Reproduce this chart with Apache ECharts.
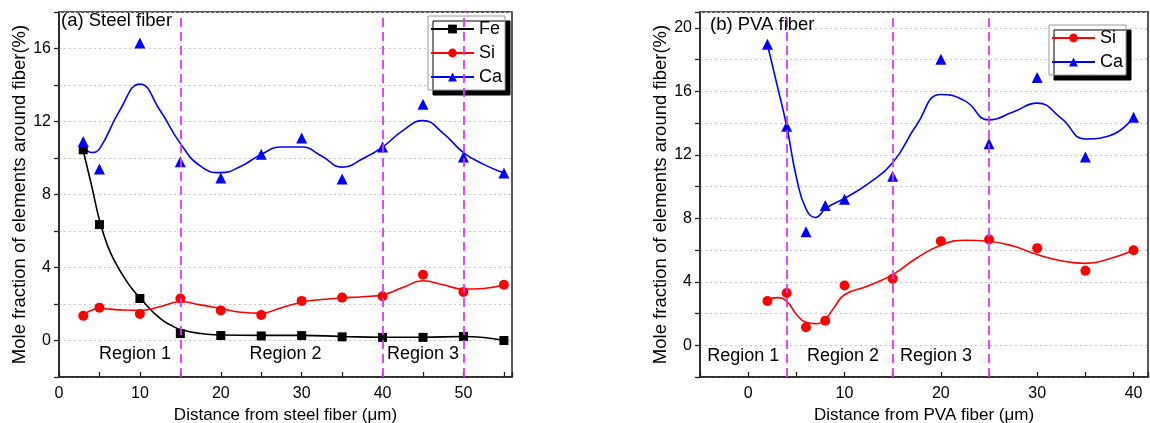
<!DOCTYPE html>
<html>
<head>
<meta charset="utf-8">
<script src="https://cdn.jsdelivr.net/npm/echarts@6/dist/echarts.min.js"></script>
<style>
  html, body { margin: 0; padding: 0; background: #fff; }
  #chart { width: 1150px; height: 423px; }
</style>
</head>
<body>
<div id="chart"></div>
<script>
// --- (a) steel fiber: measured points ---
var steelX = [3, 5, 10, 15, 20, 25, 30, 35, 40, 45, 50, 55];
var steelFe = [10.45, 6.35, 2.3, 0.38, 0.27, 0.25, 0.27, 0.2, 0.17, 0.17, 0.22, 0.0];
var steelSi = [1.35, 1.8, 1.45, 2.3, 1.65, 1.4, 2.17, 2.35, 2.42, 3.6, 2.66, 3.05];
var steelCa = [10.9, 9.4, 16.3, 9.8, 8.9, 10.2, 11.1, 8.85, 10.6, 12.95, 10.05, 9.18];

// fitted curves
var steelFeFit = [[3, 10.4], [4, 8.55], [5, 6.6], [6, 5.2], [7, 4.25], [8, 3.5], [9, 2.85],
  [10, 2.35], [11, 1.85], [12, 1.4], [13, 1.05], [14, 0.8], [15, 0.6], [17.5, 0.38], [20, 0.3],
  [25, 0.28], [30, 0.28], [35, 0.22], [40, 0.18], [45, 0.18], [50, 0.22], [55, 0.0]];
var steelSiFit = [[3, 1.4], [5, 1.75], [7.5, 1.68], [10, 1.65], [12.5, 1.85], [15, 2.12], [17.5, 1.95],
  [20, 1.75], [22.5, 1.55], [25, 1.5], [27.5, 1.8], [30, 2.1], [32.5, 2.25], [35, 2.33], [37.5, 2.4],
  [40, 2.5], [42.5, 2.9], [45, 3.27], [47.5, 3.05], [50, 2.82], [52.5, 2.85], [55, 3.05]];
var steelCaFit = [[3, 10.7], [4, 10.3], [5, 10.5], [7.5, 12.6], [10, 14.05], [12.5, 12.6], [15, 10.8],
  [17.5, 9.55], [20, 9.2], [22.5, 9.55], [25, 10.2], [27.5, 10.6], [30, 10.6], [32.5, 10.1], [35, 9.5],
  [37.5, 9.95], [40, 10.6], [42.5, 11.5], [45, 12.05], [47.5, 11.35], [50, 10.3], [52.5, 9.65], [55, 9.18]];
var steelRegionX = [15, 40, 50];
var steelRegionLabels = [['Region 1', 9.4], ['Region 2', 28], ['Region 3', 45]];

// --- (b) PVA fiber: measured points ---
var pvaX = [2, 4, 6, 8, 10, 15, 20, 25, 30, 35, 40];
var pvaSi = [2.79, 3.29, 1.13, 1.55, 3.77, 4.19, 6.56, 6.67, 6.12, 4.7, 5.99];
var pvaCa = [18.97, 13.8, 7.15, 8.8, 9.2, 10.65, 18.03, 12.7, 16.87, 11.87, 14.36];

var pvaSiFit = [[2, 2.85], [3, 3.0], [4, 2.77], [5, 1.95], [6, 1.45], [7, 1.36], [8, 1.65], [9, 2.45],
  [10, 3.18], [12.5, 3.75], [15, 4.45], [17.5, 5.5], [20, 6.3], [22.5, 6.62], [25, 6.55], [27.5, 6.25],
  [30, 5.72], [32.5, 5.32], [35, 5.16], [37.5, 5.45], [40, 5.99]];
var pvaCaFit = [[2, 18.95], [3, 16.4], [4, 13.8], [5, 10.6], [6, 8.6], [7, 8.05], [8, 8.6], [9, 8.95],
  [10, 9.25], [12.5, 10.2], [15, 11.5], [17.5, 13.9], [20, 15.8], [22.5, 15.4], [25, 14.2], [27.5, 14.7],
  [30, 15.26], [32.5, 14.3], [35, 13.0], [37.5, 13.2], [40, 14.36]];
var pvaRegionX = [4, 15, 25];
var pvaRegionLabels = [['Region 1', -0.5], ['Region 2', 9.85], ['Region 3', 19.5]];

var FONT = '"Liberation Sans", Arial, sans-serif';
var MAGENTA = '#D23CF5';

function pairs(xs, ys) {
  return xs.map(function(x, i) { return [x, ys[i]]; });
}

function everyN(n) {
  return function(v) {
    return Math.abs(v % n) < 1e-6 ? String(v) : '';
  };
}

function xAxisOf(gridIndex, min, max, name) {
  return {
    type: 'value', gridIndex: gridIndex, min: min, max: max, interval: 5,
    name: name, nameLocation: 'middle', nameGap: 26,
    nameTextStyle: { fontFamily: FONT, fontSize: 17, color: '#000' },
    axisLine: { onZero: false, lineStyle: { color: '#222', width: 1.5 } },
    axisTick: { inside: true, length: 5, lineStyle: { color: '#222', width: 1.3 } },
    axisLabel: { formatter: everyN(10), fontFamily: FONT, fontSize: 16, color: '#000', margin: 9 },
    splitLine: { show: false }
  };
}

function yAxisOf(gridIndex, min, max) {
  return {
    type: 'value', gridIndex: gridIndex, min: min, max: max, interval: 2,
    name: 'Mole fraction of elements around fiber(%)', nameLocation: 'middle', nameGap: 29,
    nameTextStyle: { fontFamily: FONT, fontSize: 18.5, color: '#000' },
    axisLine: { onZero: false, lineStyle: { color: '#222', width: 1.5 } },
    axisTick: { inside: false, length: 5, lineStyle: { color: '#222', width: 1.3 } },
    axisLabel: { formatter: everyN(4), fontFamily: FONT, fontSize: 16, color: '#000', margin: 8 },
    splitLine: { show: true, lineStyle: { color: '#c8c8c8', type: [2, 3], width: 1 } }
  };
}

function regionMarks(xs, labels, y) {
  return {
    markLine: {
      silent: true, symbol: ['none', 'none'], label: { show: false },
      lineStyle: { color: MAGENTA, type: [9, 5], width: 1.8 },
      data: xs.map(function(x) { return { xAxis: x }; })
    },
    markPoint: {
      silent: true, symbol: 'circle', symbolSize: 0,
      label: { show: true, position: 'inside', formatter: '{b}', fontFamily: FONT, fontSize: 18, color: '#000' },
      data: labels.map(function(l) { return { name: l[0], coord: [l[1], y] }; })
    }
  };
}

function curve(name, data, color, symbol, idx, extra) {
  var s = {
    name: name, type: 'line', xAxisIndex: idx, yAxisIndex: idx, data: data,
    smooth: 0.5, showSymbol: false, symbol: symbol, symbolSize: 9,
    lineStyle: { color: color, width: 1.6 }, itemStyle: { color: color }, z: 3
  };
  if (extra) { s.markLine = extra.markLine; s.markPoint = extra.markPoint; }
  return s;
}

function points(name, data, color, symbol, size, idx) {
  return {
    name: name, type: 'scatter', xAxisIndex: idx, yAxisIndex: idx, data: data,
    symbol: symbol, symbolSize: size, itemStyle: { color: color, opacity: 1 }, z: 4
  };
}

var legendBase = {
  orient: 'vertical', itemWidth: 43, itemHeight: 11, itemGap: 6,
  padding: [4, 3, 4, 2],
  backgroundColor: '#fff', borderColor: '#999', borderWidth: 1,
  shadowColor: '#000', shadowBlur: 0, shadowOffsetX: 5, shadowOffsetY: 5,
  textStyle: { fontFamily: FONT, fontSize: 18, color: '#000' }
};

var gridBase = { show: true, borderColor: '#222', borderWidth: 1.5, backgroundColor: 'transparent', outerBoundsMode: 'none' };

var chart = echarts.init(document.getElementById('chart'), null, { renderer: 'canvas' });
chart.setOption({
  animation: false,
  backgroundColor: '#fff',
  title: [
    { text: '(a) Steel fiber', left: 61, top: 11, padding: 0,
      textStyle: { fontFamily: FONT, fontSize: 18.5, fontWeight: 'normal', color: '#000' } },
    { text: '(b) PVA fiber', left: 710, top: 15, padding: 0,
      textStyle: { fontFamily: FONT, fontSize: 18.5, fontWeight: 'normal', color: '#000' } }
  ],
  legend: [
    Object.assign({}, legendBase, { left: 428, top: 16, data: ['Fe', 'Si', 'Ca'] }),
    Object.assign({}, legendBase, { left: 1049, top: 25, data: ['Si', 'Ca'] })
  ],
  grid: [
    Object.assign({}, gridBase, { left: 59, top: 12, width: 453, height: 365 }),
    Object.assign({}, gridBase, { left: 700, top: 12, width: 448, height: 365 })
  ],
  xAxis: [
    xAxisOf(0, 0, 56, 'Distance from steel fiber (\u03bcm)'),
    xAxisOf(1, -5, 41.5, 'Distance from PVA fiber (\u03bcm)')
  ],
  yAxis: [
    yAxisOf(0, -2, 18),
    yAxisOf(1, -2, 21)
  ],
  series: [
    curve('Fe', steelFeFit, '#000', 'rect', 0, regionMarks(steelRegionX, steelRegionLabels, -0.75)),
    curve('Si', steelSiFit, '#ff0000', 'circle', 0),
    curve('Ca', steelCaFit, '#0000ff', 'triangle', 0),
    points('Fe', pairs(steelX, steelFe), '#000', 'rect', 9, 0),
    points('Si', pairs(steelX, steelSi), '#ff0000', 'circle', 10, 0),
    points('Ca', pairs(steelX, steelCa), '#0000ff', 'triangle', 11, 0),

    curve('Si', pvaSiFit, '#ff0000', 'circle', 1, regionMarks(pvaRegionX, pvaRegionLabels, -0.67)),
    curve('Ca', pvaCaFit, '#0000ff', 'triangle', 1),
    points('Si', pairs(pvaX, pvaSi), '#ff0000', 'circle', 10, 1),
    points('Ca', pairs(pvaX, pvaCa), '#0000ff', 'triangle', 11, 1)
  ]
});
</script>
</body>
</html>
